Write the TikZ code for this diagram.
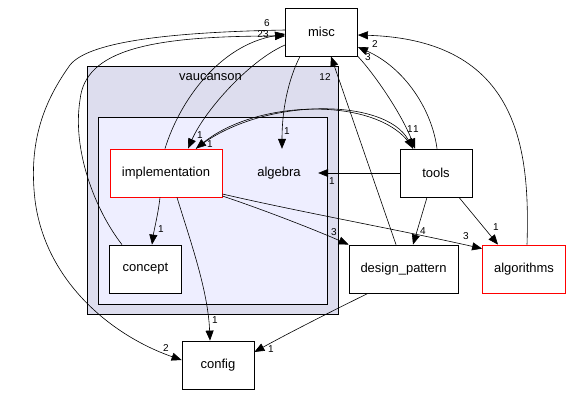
\documentclass[tikz,border=0pt]{standalone}
\usepackage{fontspec}
\setmainfont{Liberation Sans}
\usetikzlibrary{arrows.meta}
\definecolor{outerfill}{RGB}{221,221,238}
\definecolor{innerfill}{RGB}{238,238,255}
\begin{document}
\begin{tikzpicture}[x=1pt,y=-1pt,
  box/.style={draw, fill=white, minimum width=#1, minimum height=48pt, inner sep=0pt,
    font=\fontsize{13}{15}\selectfont, line width=0.8pt},
  plain/.style={minimum width=#1, minimum height=48pt, inner sep=0pt,
    font=\fontsize{13}{15}\selectfont},
  cluster/.style={draw, line width=0.8pt},
  dep/.style={-{Triangle[length=10pt,width=8pt]}, line width=0.6pt},
  lab/.style={font=\fontsize{10}{12}\selectfont, inner sep=0pt}]
\useasboundingbox (0,0) rectangle (572,407);
\fill[white] (0,0) rectangle (572,407);
% clusters
\draw[cluster, fill=outerfill] (87,66) rectangle (338,314);
\node[plain=80pt, minimum height=14pt] (vlabel) at (210.5,77) {vaucanson};
\draw[cluster, fill=innerfill] (98,117) rectangle (327,304);
% nodes
\node[box=72pt] (misc) at (321.5,32) {misc};
\node[box=112pt, draw=red] (implementation) at (166,173) {implementation};
\node[box=72.5pt] (concept) at (145.5,269) {concept};
\node[box=72pt] (tools) at (436,173) {tools};
\node[box=109pt] (design) at (403.5,269) {design\_pattern};
\node[box=83pt, draw=red] (algorithms) at (524,269) {algorithms};
\node[box=72pt] (config) at (218,365) {config};
\node[plain=78pt] (algebra) at (279,173) {algebra};
% edges
\draw[dep] ([xshift=-1pt]implementation.north) .. controls (180,100) and (220,45) .. ([yshift=-2pt]misc.west);
\draw[dep] ([xshift=-23.5pt]concept.north) .. controls (95,210) and (72,150) .. (80,100)
   .. controls (85,50) and (150,36) .. ([yshift=-4pt]misc.west);
\draw[dep] ([yshift=2pt]misc.west) .. controls (180,32) and (90,40) .. (70,65)
   .. controls (45,100) and (28,140) .. (35,200)
   .. controls (45,280) and (110,335) .. ([yshift=5pt]config.west);
\draw[dep] ([yshift=-13pt]misc.west) .. controls (250,60) and (205,110) .. ([xshift=22pt]implementation.north);
\draw[dep] ([xshift=-23pt]tools.north) .. controls (385,97) and (260,97) .. ([xshift=30pt]implementation.north);
\draw[dep] ([xshift=30pt]implementation.north) .. controls (260,97) and (385,97) .. ([xshift=-23pt]tools.north);
\draw[dep] (misc.south east) .. controls (376,76) and (402,115) .. ([xshift=-21pt]tools.north);
\draw[dep] ([xshift=1pt]tools.north) .. controls (432,110) and (405,68) .. ([yshift=-15pt]misc.east);
\draw[dep] ([xshift=3pt]algorithms.north) .. controls (530,150) and (520,40) .. ([yshift=-3pt]misc.east);
\draw[dep] ([xshift=-7.5pt]design.north) -- ([xshift=9.5pt]misc.south);
\draw[dep] ([xshift=-21.5pt]misc.south) .. controls (288,80) and (282,110) .. ([xshift=3pt]algebra.north);
\draw[dep] (tools.west) -- (algebra.east);
\draw[dep] ([xshift=-9pt]tools.south) -- ([xshift=9.5pt]design.north);
\draw[dep] ([xshift=23pt]tools.south) -- ([xshift=-26pt]algorithms.north);
\draw[dep] ([yshift=-23pt]implementation.east) .. controls (270,212) and (320,232) .. (design.north west);
\draw[dep] ([yshift=-21pt]implementation.east) .. controls (300,212) and (400,230) .. ([yshift=-4pt]algorithms.north west);
\draw[dep] ([xshift=-6pt]implementation.south) .. controls (158,215) and (154,230) .. ([xshift=6.5pt]concept.north);
\draw[dep] ([xshift=11pt]implementation.south) .. controls (190,240) and (208,290) .. ([xshift=-8pt]config.north);
\draw[dep] ([xshift=-35.5pt]design.south) .. controls (330,312) and (285,335) .. ([yshift=13pt]config.east);
% labels
\node[lab] (l1) at (267,23.5) {6};
\node[lab] (l2) at (263,34) {23};
\node[lab] (l3) at (200,135) {1};
\node[lab] (l4) at (210,144) {1};
\node[lab] (l5) at (287,131) {1};
\node[lab] (l6) at (325,77) {12};
\node[lab] (l7) at (375,44) {2};
\node[lab] (l8) at (368,57) {3};
\node[lab] (l9) at (410,129) {1};
\node[lab] (l10) at (416,129) {1};
\node[lab] (l11) at (332,181) {1};
\node[lab] (l12) at (423,231) {4};
\node[lab] (l13) at (496,227) {1};
\node[lab] (l14) at (334,232) {3};
\node[lab] (l15) at (466,236) {3};
\node[lab] (l16) at (161,229) {1};
\node[lab] (l17) at (215,320) {1};
\node[lab] (l18) at (271,349) {1};
\node[lab] (l19) at (166,348) {2};
\end{tikzpicture}
\end{document}
